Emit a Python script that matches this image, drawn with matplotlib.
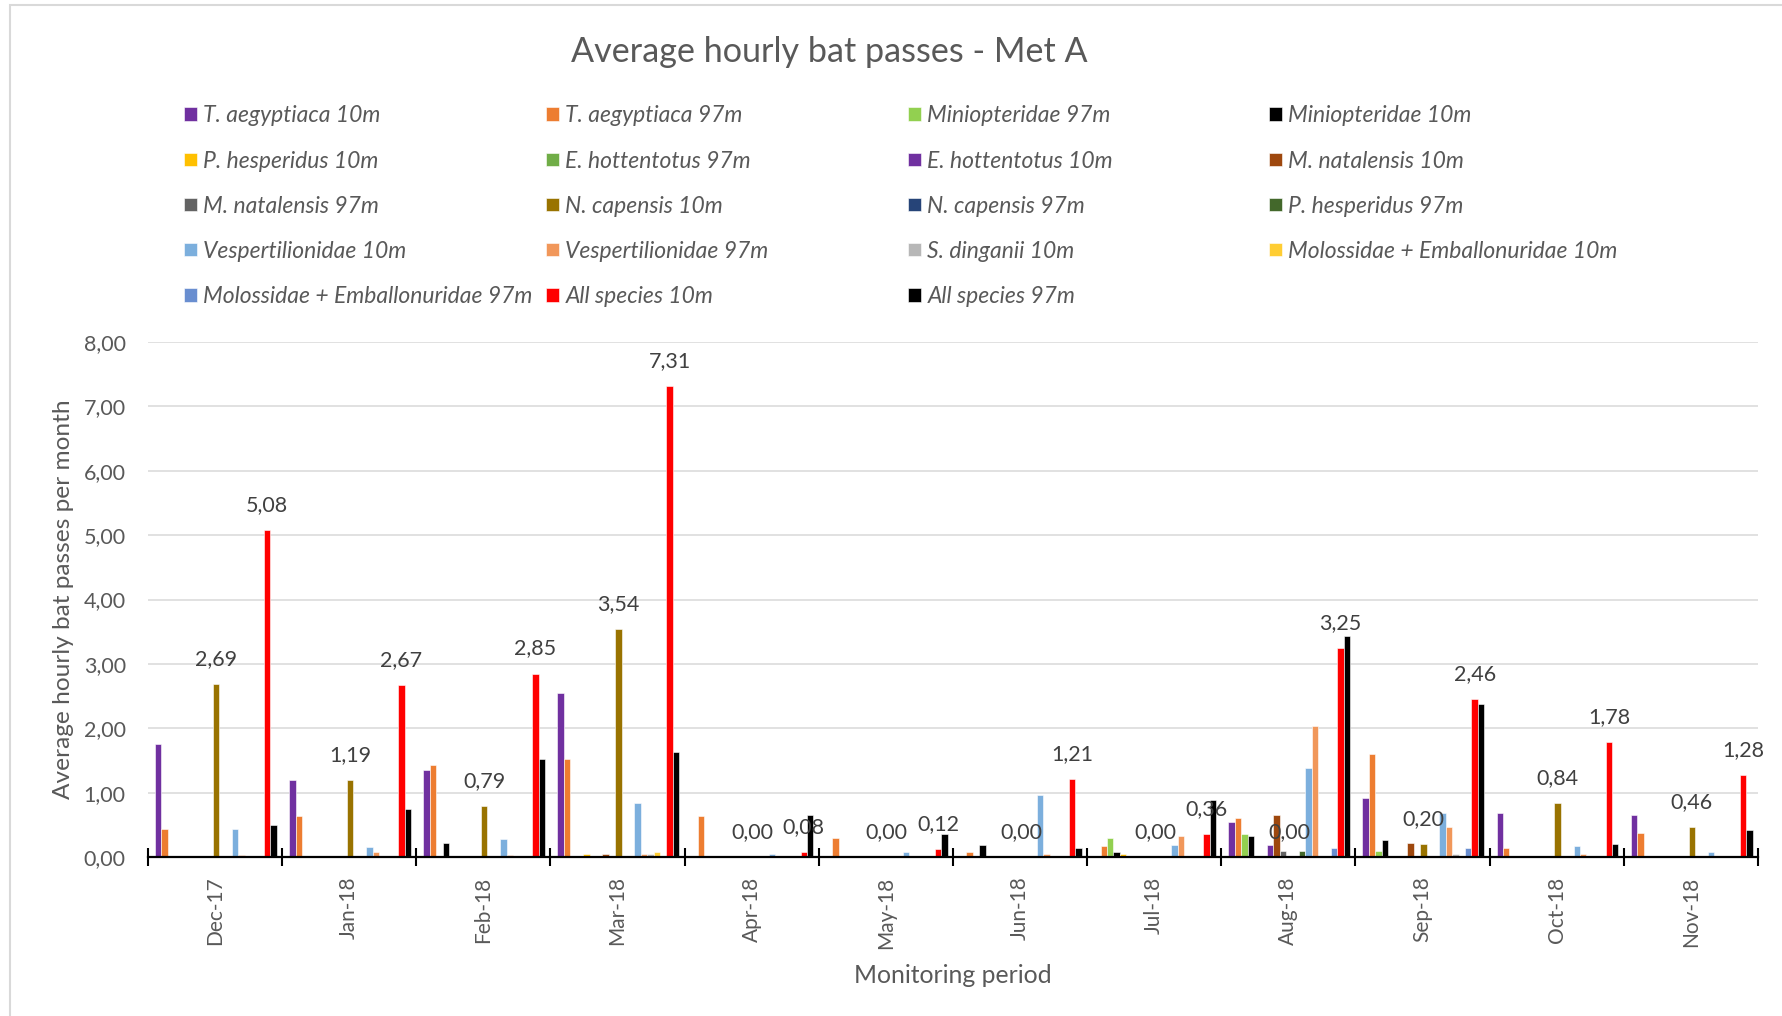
import numpy as np
import matplotlib
matplotlib.use("Agg")
import matplotlib.pyplot as plt
from matplotlib.patches import Rectangle

plt.rcParams['font.family'] = ['Lato', 'DejaVu Sans']

months = ['Dec-17', 'Jan-18', 'Feb-18', 'Mar-18', 'Apr-18', 'May-18',
          'Jun-18', 'Jul-18', 'Aug-18', 'Sep-18', 'Oct-18', 'Nov-18']

# average hourly passes per month, one list per species / height
t_aeg_10 = [1.75, 1.19, 1.35, 2.55, 0, 0, 0.01, 0, 0.54, 0.91, 0.69, 0.66]
t_aeg_97 = [0.44, 0.63, 1.43, 1.52, 0.63, 0.29, 0.07, 0.17, 0.60, 1.60, 0.14, 0.38]
mini_97 = [0, 0, 0, 0, 0, 0, 0, 0.29, 0.35, 0.10, 0, 0]
mini_10 = [0, 0, 0.22, 0, 0, 0, 0.19, 0.07, 0.32, 0.26, 0, 0]
p_hesp_10 = [0, 0, 0, 0.04, 0, 0, 0, 0.04, 0, 0, 0, 0]
e_hott_97 = [0, 0, 0, 0, 0, 0, 0, 0, 0, 0, 0, 0]
e_hott_10 = [0, 0, 0, 0, 0, 0, 0, 0, 0.19, 0, 0, 0]
m_nat_10 = [0, 0, 0, 0.04, 0, 0, 0.01, 0.01, 0.66, 0.22, 0, 0]
m_nat_97 = [0, 0, 0, 0, 0, 0, 0, 0, 0.10, 0, 0, 0]
n_cap_10 = [2.69, 1.19, 0.79, 3.54, 0.00, 0.00, 0.00, 0.00, 0.00, 0.20, 0.84, 0.46]
n_cap_97 = [0, 0, 0, 0, 0, 0, 0, 0, 0, 0, 0, 0]
p_hesp_97 = [0, 0, 0, 0, 0, 0, 0, 0, 0.10, 0, 0, 0]
vesp_10 = [0.44, 0.16, 0.28, 0.84, 0.04, 0.07, 0.97, 0.19, 1.38, 0.69, 0.17, 0.07]
vesp_97 = [0.03, 0.07, 0.03, 0.04, 0, 0, 0.04, 0.32, 2.04, 0.47, 0.04, 0]
s_ding_10 = [0, 0, 0, 0.04, 0, 0, 0, 0, 0, 0.04, 0, 0]
moloss_10 = [0, 0, 0, 0.07, 0, 0, 0, 0, 0, 0, 0, 0]
moloss_97 = [0, 0, 0, 0, 0, 0, 0, 0, 0.14, 0.14, 0, 0]
all_10 = [5.08, 2.67, 2.85, 7.31, 0.08, 0.12, 1.21, 0.36, 3.25, 2.46, 1.78, 1.28]
all_97 = [0.50, 0.75, 1.53, 1.63, 0.66, 0.35, 0.14, 0.88, 3.44, 2.38, 0.20, 0.42]

series = [
    ('T. aegyptiaca 10m', t_aeg_10, '#7030A0'),
    ('T. aegyptiaca 97m', t_aeg_97, '#ED7D31'),
    ('Miniopteridae 97m', mini_97, '#92D050'),
    ('Miniopteridae 10m', mini_10, '#000000'),
    ('P. hesperidus 10m', p_hesp_10, '#FFC000'),
    ('E. hottentotus 97m', e_hott_97, '#70AD47'),
    ('E. hottentotus 10m', e_hott_10, '#7030A0'),
    ('M. natalensis 10m', m_nat_10, '#9E480E'),
    ('M. natalensis 97m', m_nat_97, '#636363'),
    ('N. capensis 10m', n_cap_10, '#997300'),
    ('N. capensis 97m', n_cap_97, '#264478'),
    ('P. hesperidus 97m', p_hesp_97, '#43682B'),
    ('Vespertilionidae 10m', vesp_10, '#7CAFDD'),
    ('Vespertilionidae 97m', vesp_97, '#F1975A'),
    ('S. dinganii 10m', s_ding_10, '#B7B7B7'),
    ('Molossidae + Emballonuridae 10m', moloss_10, '#FFCD33'),
    ('Molossidae + Emballonuridae 97m', moloss_97, '#698ED0'),
    ('All species 10m', all_10, '#FF0000'),
    ('All species 97m', all_97, '#000000'),
]
labelled = ['N. capensis 10m', 'All species 10m']

W, H = 1783, 1016
fig = plt.figure(figsize=(W / 100, H / 100), dpi=100)
ax = fig.add_axes([148 / W, 1 - 857 / H, (1758 - 148) / W, (857 - 342) / H])

grey = '#595959'
x = np.arange(len(months))
slot = 0.0478
n = len(series)
handles = []
for k, (name, vals, col) in enumerate(series):
    pos = x + (k - (n - 1) / 2) * slot + 0.006
    b = ax.bar(pos, vals, width=slot, color=col, edgecolor='white',
               linewidth=0.4, label=name, zorder=2)
    handles.append(b)
    if name in labelled:
        for px, v in zip(pos, vals):
            ax.annotate(f'{v:.2f}'.replace('.', ','), (px, v),
                        xytext=(0, 18), textcoords='offset points',
                        ha='center', va='center', fontsize=15.5,
                        color='#404040', zorder=3)

ax.set_xlim(-0.5, len(months) - 0.5)
ax.set_ylim(0, 8)
ax.set_yticks(np.arange(0, 9, 1))
ax.set_yticklabels([f'{v:.2f}'.replace('.', ',') for v in np.arange(0, 9, 1)])
ax.yaxis.grid(True, color='#D9D9D9', linewidth=1.1, zorder=0)
ax.set_axisbelow(True)

ax.set_xticks(np.arange(-0.5, len(months)), minor=False)
ax.set_xticklabels([])
ax.set_xticks(x, minor=True)
ax.set_xticklabels(months, minor=True, rotation=90)
ax.tick_params(axis='x', which='major', direction='inout', length=13,
               width=1.5, color='black')
ax.tick_params(axis='x', which='minor', length=0, pad=14,
               labelsize=15, labelcolor=grey)
ax.tick_params(axis='y', length=0, pad=16, labelsize=15.5, labelcolor=grey)

for s in ['top', 'right', 'left']:
    ax.spines[s].set_visible(False)
ax.spines['bottom'].set_color('black')
ax.spines['bottom'].set_linewidth(1.6)
ax.spines['bottom'].set_zorder(4)

ax.set_xlabel('Monitoring period', fontsize=17.8, color=grey)
ax.set_ylabel('Average hourly bat passes per month', fontsize=17.6,
              color=grey)
ax.xaxis.set_label_coords(0.5, -(964 - 857) / (857 - 342))
ax.yaxis.set_label_coords(-(148 - 74) / (1758 - 148), 0.5)

fig.text(829 / W, 1 - 52 / H, 'Average hourly bat passes - Met A',
         ha='center', va='center', fontsize=24.6, color=grey)

# legend: four columns, filled row by row
col_x = [184, 546, 908, 1269]
for c in range(4):
    idx = list(range(c, n, 4))
    leg = fig.legend([handles[i] for i in idx], [series[i][0] for i in idx],
                     loc='upper left', bbox_to_anchor=(col_x[c] / W, 1 - 105.5 / H),
                     frameon=False, ncol=1, borderpad=0, borderaxespad=0,
                     handlelength=0.55, handleheight=0.55, handletextpad=0.3,
                     labelspacing=1.05, prop={'size': 16.5, 'style': 'italic'})
    for t in leg.get_texts():
        t.set_color(grey)

# chart frame, left and top edges only fall inside the image
fig.patches.append(Rectangle((10 / W, -0.05), 1.1, 1.05 - 5 / H,
                             transform=fig.transFigure, fill=False,
                             edgecolor='#D9D9D9', linewidth=1.5))

fig.savefig('out.png', dpi=100, facecolor='white')
